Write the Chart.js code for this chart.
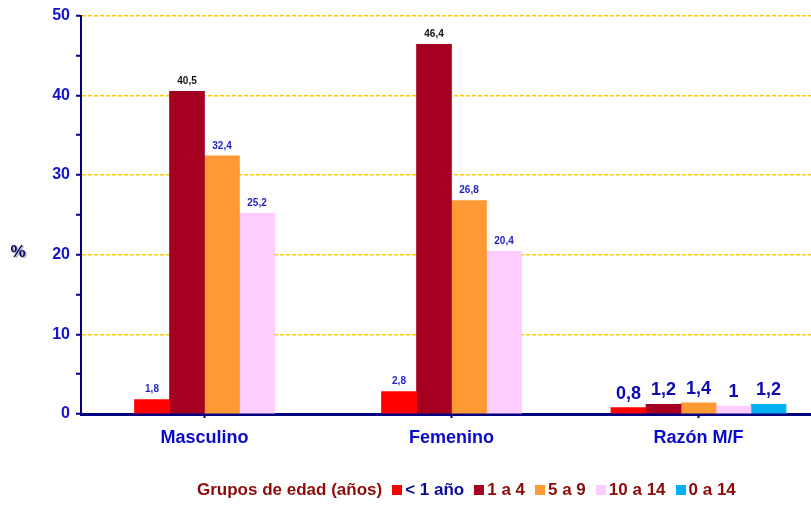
<!DOCTYPE html>
<html>
<head>
<meta charset="utf-8">
<script src="https://cdn.jsdelivr.net/npm/chart.js@4/dist/chart.umd.min.js"></script>
<style>
  html, body { margin: 0; padding: 0; background: #fff; overflow: hidden; width: 811px; height: 505px; }
  #wrap { position: absolute; left: 0; top: 0; width: 822px; height: 505px; }
  #legend { position: absolute; left: 197px; top: 480px; display: flex; align-items: center;
    font-family: "Liberation Sans", Arial, sans-serif; font-weight: bold; font-size: 17px; color: #8B0A0A; white-space: nowrap; }
  #legend .item { display: flex; align-items: center; margin-left: 10px; }
  #legend .box { width: 10px; height: 10px; margin-right: 3px; }
</style>
</head>
<body>
<div id="wrap"><canvas id="c"></canvas></div>
<div id="legend"></div>
<script>
// ---- data ----
const categories = ["Masculino", "Femenino", "Razón M/F"];
const seriesNames = ["< 1 año", "1 a 4", "5 a 9", "10 a 14", "0 a 14"];
const menor1 = [1.8, 2.8, 0.8];
const de1a4 = [40.5, 46.4, 1.2];
const de5a9 = [32.4, 26.8, 1.4];
const de10a14 = [25.2, 20.4, 1];
const de0a14 = [null, null, 1.2];
const yTicks = [0, 10, 20, 30, 40, 50];
const legendTitle = "Grupos de edad (años)";

// ---- styles ----
const barColors = ["#FF0000", "#A50021", "#FF9933", "#FFCCFF", "#00B0F0"];
const legendTextColors = ["#0A0A99", "#8B0A0A", "#8B0A0A", "#8B0A0A", "#8B0A0A"];
const labelColorSmall = ["#1F1FC0", "#111111", "#1F1FC0", "#1F1FC0", "#1F1FC0"];
const FONT = '"Liberation Sans", Arial, sans-serif';

const allSeries = [menor1, de1a4, de5a9, de10a14, de0a14];

const datasets = allSeries.map((vals, i) => ({
  label: seriesNames[i],
  data: vals,
  backgroundColor: barColors[i],
  borderWidth: 0,
  barThickness: 35,
  skipNull: true
}));

const valueLabels = {
  id: 'valueLabels',
  afterDatasetsDraw(chart) {
    const ctx = chart.ctx;
    ctx.save();
    ctx.textAlign = 'center';
    ctx.textBaseline = 'bottom';
    chart.data.datasets.forEach((ds, di) => {
      const meta = chart.getDatasetMeta(di);
      meta.data.forEach((el, i) => {
        const v = ds.data[i];
        if (v === null || v === undefined) return;
        const big = i === 2;
        ctx.font = 'bold ' + (big ? 18 : 10) + 'px ' + FONT;
        ctx.fillStyle = big ? '#0A0AB0' : labelColorSmall[di];
        ctx.fillText(String(v).replace('.', ','), el.x, el.y - 5);
      });
    });
    ctx.restore();
  }
};

const percentTitle = {
  id: 'percentTitle',
  afterDraw(chart) {
    const ctx = chart.ctx;
    ctx.save();
    ctx.font = 'bold 17px ' + FONT;
    ctx.textAlign = 'center';
    ctx.textBaseline = 'middle';
    ctx.shadowColor = 'rgba(0,0,0,0.35)';
    ctx.shadowOffsetX = 1.5;
    ctx.shadowOffsetY = 1.5;
    ctx.shadowBlur = 1;
    ctx.fillStyle = '#000066';
    ctx.fillText('%', 18, 252);
    ctx.restore();
  }
};

new Chart(document.getElementById('c'), {
  type: 'bar',
  data: { labels: categories, datasets },
  options: {
    responsive: true,
    maintainAspectRatio: false,
    animation: false,
    layout: { padding: { left: 0, right: 0, top: 15, bottom: 51 } },
    plugins: { legend: { display: false }, tooltip: { enabled: false } },
    scales: {
      x: {
        afterFit(s) { s.height = 40; },
        border: { color: '#000080', width: 3 },
        grid: { drawOnChartArea: false, offset: false, color: 'rgba(0,0,0,0)', tickColor: '#000080', tickWidth: 2, tickLength: 4 },
        ticks: { color: '#0A0ACC', font: { family: FONT, size: 18, weight: 'bold' }, padding: 9 }
      },
      y: {
        min: 0, max: 50,
        afterFit(s) { s.width = 81; },
        border: { color: '#000080', width: 2, dash: [4, 2] },
        grid: {
          color: (c) => (c.tick && Math.round(c.tick.value) % 10 === 0 && c.tick.value > 0) ? '#FFCC00' : 'rgba(255,255,255,0)',
          lineWidth: 1.5,
          tickColor: '#000080', tickWidth: 2, tickLength: 5, tickBorderDash: []
        },
        ticks: {
          stepSize: 5,
          color: '#1414CC',
          font: { family: FONT, size: 16, weight: 'bold' },
          padding: 6,
          callback: (v) => yTicks.includes(v) ? v : ''
        }
      }
    }
  },
  plugins: [valueLabels, percentTitle]
});

// legend from arrays
const leg = document.getElementById('legend');
const t = document.createElement('span');
t.textContent = legendTitle;
leg.appendChild(t);
seriesNames.forEach((n, i) => {
  const it = document.createElement('span'); it.className = 'item';
  const b = document.createElement('span'); b.className = 'box'; b.style.background = barColors[i];
  const s = document.createElement('span'); s.textContent = n; s.style.color = legendTextColors[i];
  it.appendChild(b); it.appendChild(s); leg.appendChild(it);
});
</script>
</body>
</html>
